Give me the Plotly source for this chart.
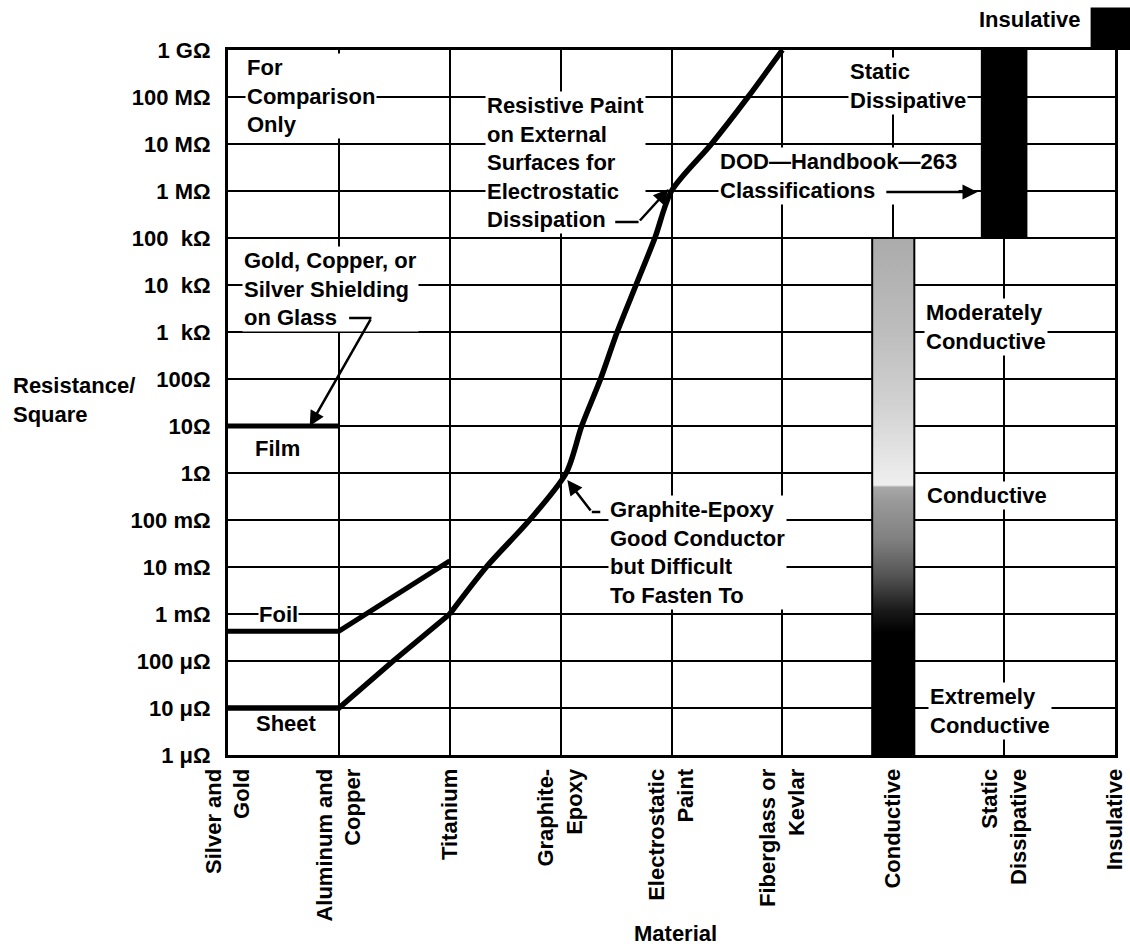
import math
import plotly.graph_objects as go

# ---------------- data ----------------
materials = ["Silver and<br>Gold", "Aluminum and<br>Copper", "Titanium", "Graphite-<br>Epoxy",
             "Electrostatic<br>Paint", "Fiberglass or<br>Kevlar", "Conductive",
             "Static<br>Dissipative", "Insulative"]
material_pos = [0, 1, 2, 3, 4, 5, 6, 7, 8]

res_ticks = [1e-6, 1e-5, 1e-4, 1e-3, 1e-2, 1e-1, 1e0, 1e1, 1e2, 1e3, 1e4, 1e5, 1e6, 1e7, 1e8, 1e9]
res_labels = ["1 μΩ", "10 μΩ", "100 μΩ", "1 mΩ", "10 mΩ", "100 mΩ", "1Ω", "10Ω", "100Ω",
              "1  kΩ", "10  kΩ", "100  kΩ", "1 MΩ", "10 MΩ", "100 MΩ", "1 GΩ"]

# Sheet curve (Silver/Gold -> Fiberglass/Kevlar)
sheet_pos = [0, 1, 1.49, 2.0, 2.33, 2.72, 3.05, 3.19, 3.36, 3.51, 3.68, 3.85, 4.0, 4.36, 4.69, 5.0]
sheet_res = [1e-5, 1e-5, 1e-4, 1e-3, 1e-2, 1e-1, 1e0, 1e1, 1e2, 1e3, 1e4, 1e5, 1e6, 1e7, 1e8, 1e9]

# Foil
foil_pos = [0, 1, 2]
foil_res = [4.3e-4, 4.3e-4, 1.35e-2]

# Film
film_pos = [0, 1]
film_res = [10, 10]

# DOD-Handbook-263 classifications
class_names = ["Conductive", "Static Dissipative", "Insulative"]
class_pos = [6, 7, 8]
class_low = [1e-6, 1e5, 1e9]
class_high = [1e5, 1e9, 8e9]

X_RANGE = [0, 8]
Y_RANGE = [-6, 9]   # log10

# ---------------- figure ----------------
fig = go.Figure()

# Conductive bar with shaded gradient
half = 0.19
cp, lo, hi = class_pos[0], class_low[0], class_high[0]
fig.add_trace(go.Scatter(
    x=[cp - half, cp + half, cp + half, cp - half, cp - half],
    y=[lo, lo, hi, hi, lo],
    mode="lines", fill="toself",
    line=dict(color="black", width=2),
    fillgradient=dict(type="vertical", colorscale=[
        [0.0, "#000000"], [0.236, "#000000"], [0.28, "#1a1a1a"], [0.348, "#555555"],
        [0.416, "#808080"], [0.493, "#9a9a9a"], [0.518, "#a8a8a8"], [0.522, "#efefef"],
        [0.59, "#e2e2e2"], [0.687, "#d0d0d0"], [0.822, "#bdbdbd"], [1.0, "#ababab"]]),
    hoverinfo="skip", name=class_names[0]))

# Static dissipative bar
fig.add_trace(go.Bar(
    x=[class_pos[1]], base=[class_low[1]], y=[class_high[1] - class_low[1]],
    width=[0.42], offset=[-0.21],
    marker=dict(color="black", line=dict(width=0)),
    hoverinfo="skip", name=class_names[1]))

# Insulative key box (lies above the plotted range), positioned from the class data
ins_offset, ins_width = -0.22, 0.36


def xfrac(v):
    return (v - X_RANGE[0]) / (X_RANGE[1] - X_RANGE[0])


def yfrac(v):
    return (math.log10(v) - Y_RANGE[0]) / (Y_RANGE[1] - Y_RANGE[0])


fig.add_shape(type="rect", xref="x domain", yref="y domain",
              x0=xfrac(class_pos[2] + ins_offset), x1=xfrac(class_pos[2] + ins_offset + ins_width),
              y0=yfrac(class_low[2]), y1=yfrac(class_high[2]),
              fillcolor="black", line=dict(width=0), layer="above")

# Material curves
n_lin = 4  # straight segment up to Titanium, then smooth curve
fig.add_trace(go.Scatter(x=sheet_pos[:n_lin], y=sheet_res[:n_lin], mode="lines",
                         line=dict(color="black", width=5.5), hoverinfo="skip"))
fig.add_trace(go.Scatter(x=sheet_pos[n_lin - 1:], y=sheet_res[n_lin - 1:], mode="lines",
                         line=dict(color="black", width=5.5, shape="spline", smoothing=0.8),
                         hoverinfo="skip"))
fig.add_trace(go.Scatter(x=foil_pos, y=foil_res, mode="lines",
                         line=dict(color="black", width=5), hoverinfo="skip"))
fig.add_trace(go.Scatter(x=film_pos, y=film_res, mode="lines",
                         line=dict(color="black", width=5), hoverinfo="skip"))

FS = 22


def note(text, x, y, xanchor="left", align="left", bg="white", height=None):
    # y given in log10 units (annotation convention on log axes)
    d = dict(text=text, x=x, y=y, xref="x", yref="y", xanchor=xanchor, yanchor="middle",
             align=align, showarrow=False, bgcolor=bg, borderpad=1, font=dict(size=FS))
    if height:
        d["height"] = height
        d["borderpad"] = 0
    return d


def arrow(x, y, ax, ay, head=2):
    return dict(text="", x=x, y=y, ax=ax, ay=ay, xref="x", yref="y", axref="x", ayref="y",
                showarrow=True, arrowhead=head, arrowsize=1.2, arrowwidth=2.5,
                arrowcolor="black", standoff=0, startstandoff=0)


annotations = [
    note("For<br>Comparison<br>Only", 0.153, 8.02),
    note("Resistive Paint<br>on External<br>Surfaces for<br>Electrostatic<br>Dissipation", 2.319, 6.617),
    note("Gold, Copper, or<br>Silver Shielding<br>on Glass", 0.126, 3.915),
    note("Film", 0.45, 0.532, xanchor="center", height=22),
    note("Foil", 0.458, -3.0, xanchor="center", height=20),
    note("Sheet", 0.53, -5.32, xanchor="center", height=22),
    note("Graphite-Epoxy<br>Good Conductor<br>but Difficult<br>To Fasten To", 3.43, -1.70),
    note("DOD—Handbook—263<br>Classifications", 4.42, 6.32),
    note("Static<br>Dissipative", 5.59, 8.23),
    note("Moderately<br>Conductive", 6.28, 3.11),
    note("Conductive", 6.29, -0.47),
    note("Extremely<br>Conductive", 6.31, -5.06),
    dict(text="Insulative", x=7.70, y=1.0426, xref="x", yref="paper", xanchor="right",
         yanchor="middle", showarrow=False, font=dict(size=FS)),
    # leader lines and arrows
    arrow(1.294, 3.298, 1.079, 3.298, head=0),
    arrow(0.737, 1.0, 1.294, 3.298),
    arrow(3.703, 5.34, 3.479, 5.34, head=0),
    arrow(3.973, 6.04, 3.703, 5.34),
    arrow(3.281, -0.83, 3.371, -0.83, head=0),
    arrow(3.06, -0.15, 3.281, -0.83),
    arrow(6.76, 5.98, 5.924, 5.98),
    # axis titles
    dict(text="Resistance/<br>Square", x=-0.245, y=0.5035, xref="paper", yref="paper",
         xanchor="left", yanchor="middle", align="left", showarrow=False, font=dict(size=FS)),
    dict(text="Material", x=0.5045, y=-0.2525, xref="paper", yref="paper",
         xanchor="center", yanchor="middle", showarrow=False, font=dict(size=FS)),
]

fig.update_layout(
    width=1130, height=949,
    margin=dict(l=228, r=15, t=50, b=194, autoexpand=False),
    plot_bgcolor="white", paper_bgcolor="white", showlegend=False,
    font=dict(family="Liberation Sans, Arial, sans-serif", size=FS, color="black", weight="bold"),
    annotations=annotations,
)
fig.update_xaxes(range=X_RANGE, tickmode="array", tickvals=material_pos, ticktext=materials,
                 tickangle=-90, showgrid=True, gridcolor="black", gridwidth=2,
                 showline=True, linecolor="black", linewidth=3, mirror=True, automargin=False,
                 zeroline=False, ticks="", ticklabelstandoff=2)
fig.update_yaxes(type="log", range=Y_RANGE, tickmode="array", tickvals=res_ticks, ticktext=res_labels,
                 showgrid=True, gridcolor="black", gridwidth=2,
                 showline=True, linecolor="black", linewidth=3, mirror=True, automargin=False,
                 zeroline=False, ticks="", ticklabelstandoff=10)

fig.write_html("out.html", config={"displayModeBar": False},
               post_script="document.body.style.margin='0px';")
